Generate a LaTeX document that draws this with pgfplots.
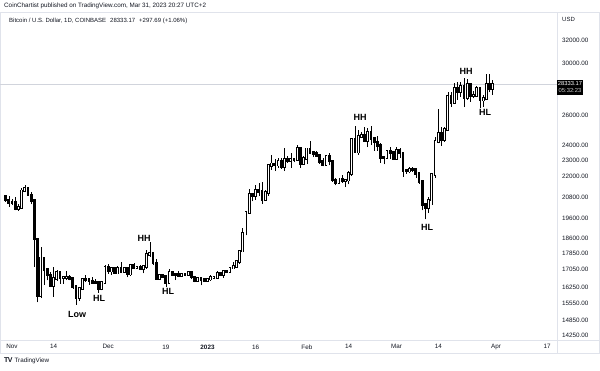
\documentclass[border=0pt]{standalone}
\usepackage{pgfplots}
\pgfplotsset{compat=1.18}
\usepackage{pgfplotstable}
\usepackage{fontspec}
\setmainfont{Liberation Sans}
\definecolor{tvtext}{HTML}{131722}
\definecolor{tvline}{HTML}{E0E3EB}
\definecolor{tvprice}{HTML}{D1D4DC}

% day index: 0 = 1 Nov 2022
\pgfplotstableread{
d o h l c
-2 20810 20920 20520 20630
-1 20630 20840 20250 20490
0 20490 20700 20350 20480
1 20480 20800 20060 20160
2 20160 20390 20040 20210
3 20210 21300 20180 21150
4 21150 21480 21080 21300
5 21300 21360 20900 20920
6 20920 21070 20390 20600
7 20600 20680 17170 18540
8 18540 18590 15580 15880
9 15880 18150 15760 17600
10 17600 17660 16360 17070
11 17070 17090 16550 16800
12 16800 16920 16250 16330
13 16330 17190 15820 16620
14 16620 17050 16540 16900
15 16900 16970 16400 16660
16 16660 16740 16400 16690
17 16690 17000 16560 16700
18 16700 16800 16550 16630
19 16630 16700 16180 16280
20 16280 16290 15480 15780
21 15780 16260 15650 16200
22 16200 16670 16170 16600
23 16600 16810 16470 16590
24 16590 16610 16360 16520
25 16520 16700 16400 16460
26 16460 16600 16400 16440
27 16440 16480 16000 16200
28 16200 16540 16100 16440
29 16440 17250 16430 17160
30 17160 17320 16860 16980
31 16980 17100 16790 17090
32 17090 17150 16880 16890
33 16890 17200 16880 17110
34 17110 17420 16880 16970
35 16970 17110 16920 17090
36 17090 17140 16690 16840
37 16840 17300 16740 17230
38 17230 17350 17080 17130
39 17130 17230 17090 17140
40 17140 17270 17070 17090
41 17090 17240 16870 17210
42 17210 18000 17080 17780
43 17780 18390 17660 17810
44 17810 17850 17280 17360
45 17360 17530 16580 16630
46 16630 16800 16590 16780
47 16780 16860 16670 16740
48 16740 16820 16270 16440
49 16440 17060 16400 16900
50 16900 16910 16740 16830
51 16830 16870 16560 16820
52 16820 16960 16760 16780
53 16780 16860 16760 16840
54 16840 16860 16730 16830
55 16830 16930 16780 16910
56 16910 16960 16590 16700
57 16700 16770 16460 16540
58 16540 16650 16490 16630
59 16630 16640 16330 16600
60 16600 16630 16480 16530
61 16530 16630 16490 16610
62 16610 16780 16540 16670
63 16670 16760 16600 16680
64 16680 16990 16650 16850
65 16850 16880 16750 16830
66 16830 17040 16670 16950
67 16950 16980 16900 16940
68 16940 17180 16910 17120
69 17120 17400 17100 17180
70 17180 17490 17150 17440
71 17440 17990 17310 17940
72 17940 19100 17910 18850
73 18850 19970 18720 19930
74 19930 21260 19890 20950
75 20950 21000 20550 20880
76 20880 21470 20640 21190
77 21190 21640 20850 21140
78 21140 21650 20420 20680
79 20680 21190 20670 21080
80 21080 22750 20880 22680
81 22680 23340 22420 22780
82 22780 23060 22340 22710
83 22710 23170 22540 22920
84 22920 23170 22480 22630
85 22630 23820 22340 23060
86 23060 23290 22850 23010
87 23010 23500 22530 23080
88 23080 23180 22880 23030
89 23030 23960 22990 23740
90 23740 23800 22540 22830
91 22830 23310 22720 23130
92 23130 23810 22760 23730
93 23730 24250 23390 23490
94 23490 23600 23210 23430
95 23430 23580 23250 23330
96 23330 23430 22780 22930
97 22930 23160 22630 22760
98 22760 23350 22750 23260
99 23260 23450 22680 22960
100 22960 22990 21690 21800
101 21800 21930 21470 21630
102 21630 21900 21600 21860
103 21860 22090 21640 21780
104 21780 21880 21370 21790
105 21790 22310 21530 22200
106 22200 24380 22050 24330
107 24330 25250 23510 23530
108 23530 25020 23350 24580
109 24580 24880 24450 24640
110 24640 25190 24220 24310
111 24310 25120 23860 24840
112 24840 25250 23980 24440
113 24440 24480 23600 24190
114 24190 24590 23620 23940
115 23940 24130 22860 23180
116 23180 23220 22750 23160
117 23160 23690 23090 23560
118 23560 23880 23110 23490
119 23490 23600 23030 23140
120 23140 23880 23100 23630
121 23630 23770 23180 23470
122 23470 23480 22000 22350
123 22350 22420 22180 22340
124 22340 22610 22190 22430
125 22430 22590 22290 22410
126 22410 22540 21930 22200
127 22200 22270 21580 21700
128 21700 21810 20050 20360
129 20360 20370 19570 20190
130 20190 20800 19900 20630
131 20630 22200 20370 22140
132 22140 24550 21920 24200
133 24200 26500 24100 24750
134 24750 25220 23930 24380
135 24380 25200 24220 25060
136 25060 27760 25020 27440
137 27440 27730 26630 26960
138 26960 28430 26880 28040
139 28040 28500 27180 27790
140 27790 28480 27380 28190
141 28190 28870 26620 27310
142 27310 28780 27170 28340
143 28340 28390 27000 27480
144 27480 27800 27270 27490
145 27490 28200 27420 27990
146 27990 28030 26550 27140
147 27140 27500 26650 27270
148 27270 29190 27250 28360
149 28360 29170 27720 28030
150 28035 28650 27530 28333.17
}\btc

\begin{document}
\begin{tikzpicture}[x=1pt,y=1pt]
\fill[white] (0,0) rectangle (600,370);
% frame
\draw[tvline, line width=0.6pt] (0.5,17) rectangle (599.5,358);
\draw[tvline, line width=0.6pt] (557,17) -- (557,358);
\draw[tvline, line width=0.6pt] (0.5,30) -- (599.5,30);
\begin{axis}[
  at={(0pt,30pt)}, anchor=south west,
  scale only axis, width=557pt, height=328pt,
  xmin=-3.744, xmax=170.05,
  ymode=log, ymin=14056, ymax=34560,
  axis line style={draw=none},
  major tick length=0pt, minor tick num=0,
  xtick={0,13,30,48,61,76,92,105,120,133,151,167},
  xticklabels={Nov,14,Dec,19,\textbf{2023},16,Feb,14,Mar,14,Apr,17},
  xticklabel style={anchor=north, inner sep=0pt, yshift=-4.5pt,
    font=\fontsize{6.3}{7}\selectfont, text=tvtext},
  ytick={14250,14850,15550,16250,17050,17850,18600,19600,20800,22000,23000,24000,26000,30000,32000},
  yticklabels={14250.00,14850.00,15550.00,16250.00,17050.00,17850.00,18600.00,19600.00,20800.00,22000.00,23000.00,24000.00,26000.00,30000.00,32000.00},
  yticklabel pos=right,
  yticklabel style={anchor=west, inner sep=0pt, xshift=5pt,
    font=\fontsize{6.3}{7}\selectfont, text=tvtext},
  clip=false,
]
% last price line
\addplot [tvprice, line width=1pt, forget plot] coordinates {(-3.744,28333.17) (170.05,28333.17)};
% wicks
\addplot [draw=none, forget plot,
  error bars/.cd, y dir=plus, y explicit, error mark=none,
  error bar style={draw=black, line width=0.55pt}]
  table [x=d, y=l, y error plus expr={\thisrow{h}-\thisrow{l}}] {\btc};
% bodies (black)
\addplot [draw=none, forget plot,
  error bars/.cd, y dir=plus, y explicit, error mark=none,
  error bar style={draw=black, line width=2.8pt, line cap=rect}]
  table [x=d, y expr={min(\thisrow{o},\thisrow{c})}, y error plus expr={abs(\thisrow{c}-\thisrow{o})}] {\btc};
% hollow interior of up candles
\addplot [draw=none, forget plot,
  restrict expr to domain={\thisrow{c}-\thisrow{o}}{0:100000},
  error bars/.cd, y dir=plus, y explicit, error mark=none,
  error bar style={draw=white, line width=1.0pt, line cap=rect}]
  table [x=d, y=o, y error plus expr={\thisrow{c}-\thisrow{o}}] {\btc};
\end{axis}
% header texts
\node[anchor=west, inner sep=0pt, text=tvtext, font=\fontsize{6.3}{7}\selectfont] at (4,364) {CoinChartist published on TradingView.com, Mar 31, 2023 20:27 UTC+2};
\node[anchor=west, inner sep=0pt, text=tvtext, font=\fontsize{6}{7}\selectfont] at (9,349) {Bitcoin / U.S. Dollar, 1D, COINBASE\hspace{4pt}28333.17\hspace{4pt}+297.69 (+1.06\%)};
\node[anchor=west, inner sep=0pt, text=tvtext, font=\fontsize{6}{7}\selectfont] at (562,351) {USD};
% price box
\fill[black] (557,275) rectangle (583,290);
\node[inner sep=0pt, text=white, font=\fontsize{5.8}{6}\selectfont] at (570,286) {28333.17};
\node[inner sep=0pt, text=white!80!black, font=\fontsize{5.8}{6}\selectfont] at (570,279) {05:32:23};
% footer
\node[anchor=west, inner sep=0pt, text=tvtext, font=\fontsize{6.3}{7}\selectfont] at (4,9) {\textbf{\fontsize{7}{7}\selectfont T\kern-0.6pt V}\hspace{2pt}TradingView};
% annotations
\begin{scope}[every node/.style={inner sep=0pt, font=\bfseries\fontsize{9}{9}\selectfont}]
\node at (77,56) {Low};
\node at (99,72) {HL};
\node at (144,132) {HH};
\node at (168,79) {HL};
\node at (360,253) {HH};
\node at (427,143) {HL};
\node at (466,299) {HH};
\node at (485,258) {HL};
\end{scope}
\pgfresetboundingbox
\path (0,0) rectangle (600,370);
\end{tikzpicture}
\end{document}
